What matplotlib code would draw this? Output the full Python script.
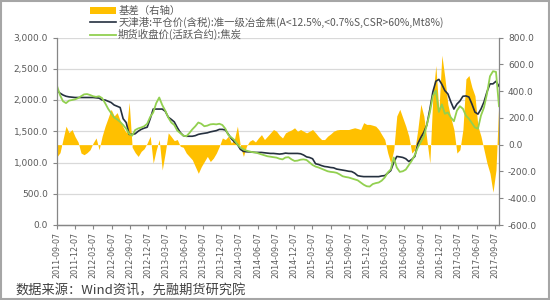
import matplotlib
matplotlib.use("Agg")
import matplotlib.pyplot as plt
import matplotlib.dates as mdates
from matplotlib.ticker import FuncFormatter
from matplotlib.patches import Rectangle
import pandas as pd

plt.rcParams['font.family'] = ['Noto Sans CJK SC', 'DejaVu Sans']

# 日期轴 (约每10天一个点)
dates = pd.date_range('2011-09-07', '2017-09-27', periods=148)

# 期货收盘价(活跃合约):焦炭  (左轴)
futures = [2226, 2080, 1980, 1950, 1990, 2000, 2010, 2030, 2060, 2090,
           2095, 2080, 2060, 2050, 2060, 2030, 1950, 1860, 1790, 1720,
           1690, 1650, 1600, 1540, 1460, 1430, 1520, 1545, 1560, 1580,
           1620, 1730, 1800, 1950, 2040, 1920, 1830, 1720, 1640, 1600,
           1510, 1470, 1430, 1420, 1470, 1530, 1580, 1640, 1620, 1580,
           1590, 1610, 1615, 1610, 1620, 1600, 1540, 1440, 1400, 1360,
           1290, 1240, 1210, 1190, 1178, 1165, 1161, 1145, 1130, 1115,
           1100, 1092, 1085, 1078, 1060, 1050, 1080, 1085, 1050, 1025,
           1030, 1045, 1050, 1040, 1000, 960, 935, 920, 900, 880,
           860, 850, 845, 835, 810, 780, 768, 760, 745, 730,
           715, 680, 645, 620, 615, 655, 670, 680, 710, 760,
           840, 890, 1080, 920, 850, 860, 887, 960, 1030, 1120,
           1240, 1330, 1420, 1600, 1800, 2065, 2150, 1810, 1930, 1780,
           1800, 1720, 1660, 1830, 1900, 1860, 1750, 1700, 1630, 1560,
           1540, 1750, 1880, 2100, 2380, 2460, 2450, 1900]

# 天津港:平仓价(含税):准一级冶金焦  (左轴)
spot = [2150, 2110, 2080, 2060, 2050, 2045, 2040, 2040, 2040, 2040,
        2040, 2040, 2040, 2035, 2030, 2000, 2000, 1980, 1960, 1920,
        1900, 1880, 1700, 1640, 1450, 1450, 1460, 1500, 1530, 1550,
        1565, 1700, 1855, 1855, 1855, 1855, 1820, 1726, 1690, 1650,
        1560, 1480, 1430, 1420, 1420, 1420, 1430, 1450, 1460, 1468,
        1475, 1490, 1500, 1510, 1530, 1530, 1520, 1452, 1380, 1330,
        1290, 1210, 1178, 1172, 1170, 1165, 1161, 1161, 1161, 1155,
        1150, 1145, 1145, 1140, 1135, 1140, 1150, 1145, 1145, 1145,
        1145, 1140, 1120, 1090, 1080, 1060, 980, 968, 950, 936,
        930, 920, 915, 895, 887, 880, 870, 860, 855, 830,
        790, 780, 774, 774, 774, 774, 774, 774, 785, 790,
        830, 870, 1000, 1097, 1090, 1081, 1060, 1016, 1050, 1097,
        1300, 1400, 1484, 1600, 1850, 2130, 2300, 2330, 2250, 2150,
        2097, 1968, 1855, 1935, 1984, 2060, 2065, 2048, 1935, 1806,
        1774, 1855, 1968, 2129, 2258, 2258, 2300, 2220]

# 基差 (右轴)
basis = [-90, -60, 40, 138, 90, 113, 60, 20, -63, -75,
         -60, -38, 12, 50, -38, 63, 138, 200, 264, 214,
         239, 180, 130, 90, 317, -20, -60, -88, -50, -30,
         12, 63, -138, -40, 38, -189, -60, 88, 60, 30,
         38, -12, -20, -63, -88, -113, -164, -214, -164, -126,
         -88, -126, -101, -63, -12, 50, 38, 63, 12, 40,
         138, -12, -88, -12, 25, 38, 20, 50, 75, 38,
         63, 88, 113, 100, 70, 50, 88, 100, 110, 126,
         100, 113, 100, 88, 100, 113, 88, 60, 38, 38,
         63, 80, 100, 110, 113, 113, 113, 113, 120, 126,
         120, 113, 164, 151, 151, 145, 138, 113, 75, 38,
         -63, -138, -38, 214, 264, 201, 138, 63, -63, -38,
         113, 302, 214, 38, -138, 365, 591, 250, 668, 500,
         300, 200, 113, -63, -38, 113, 491, 516, 428, 365,
         138, 63, -38, -138, -214, -355, -189, 350]

tick_dates = [pd.Timestamp('2011-09-07') + pd.DateOffset(months=3 * i) for i in range(25)]
left_ticks = [0, 500, 1000, 1500, 2000, 2500, 3000]
right_ticks = [-600, -400, -200, 0, 200, 400, 600, 800]

labels = ['基差（右轴）',
          '天津港:平仓价(含税):准一级冶金焦(A<12.5%,<0.7%S,CSR>60%,Mt8%)',
          '期货收盘价(活跃合约):焦炭']

GRAY = '#595959'
AXC = '#868686'

fig = plt.figure(figsize=(5.5, 3), dpi=100)
ax = fig.add_axes([57 / 550, 0.25, 442 / 550, 0.625])
ax2 = ax.twinx()
ax.set_zorder(2)
ax2.set_zorder(1)
ax.patch.set_visible(False)

# gridlines follow left axis, drawn under the basis fill
for t in left_ticks[1:]:
    ax2.axhline(-600 + t * 1400 / 3000, color='#d9d9d9', lw=0.9, zorder=0)

fb = ax2.fill_between(dates, 0, basis, color='#FFC000', lw=0, zorder=2)
l1, = ax.plot(dates, spot, color='#25303f', lw=1.2)
l2, = ax.plot(dates, futures, color='#92D050', lw=1.3)

ax.set_xlim(dates[0], dates[-1])
ax.set_ylim(0, 3000)
ax2.set_ylim(-600, 800)
ax.set_yticks(left_ticks)
ax2.set_yticks(right_ticks)
ax.yaxis.set_major_formatter(FuncFormatter(lambda v, p: f'{v:,.1f}'))
ax2.yaxis.set_major_formatter(FuncFormatter(lambda v, p: f'{v:,.1f}'))
ax.set_xticks(tick_dates)
ax.xaxis.set_major_formatter(mdates.DateFormatter('%Y-%m-%d'))

for a in (ax, ax2):
    for s in a.spines.values():
        s.set_color(AXC)
        s.set_linewidth(0.9)
    a.spines['top'].set_visible(False)
    a.tick_params(colors=AXC, labelcolor=GRAY, length=3, width=0.8,
                  labelsize=6.5)
ax2.spines['left'].set_visible(False)
ax.spines['right'].set_visible(False)
ax.tick_params(axis='x', labelrotation=90, labelsize=5.8, pad=2)
for lab in ax.get_yticklabels() + ax2.get_yticklabels() + ax.get_xticklabels():
    lab.set_family('DejaVu Sans')

fig.legend([fb, l1, l2], labels, loc='upper left',
           bbox_to_anchor=(90 / 550, 1 - 6 / 300), frameon=False,
           fontsize=7.5, handlelength=2.5, handletextpad=0.2,
           labelspacing=0.1, borderpad=0, borderaxespad=0,
           labelcolor=GRAY)

fig.text(15 / 550, 1 - 291 / 300, '数据来源：Wind资讯，先融期货研究院',
         fontsize=9.5, color='#404040', va='center')

fig.patches.append(Rectangle((0.002, 0.003), 0.996, 0.994, transform=fig.transFigure,
                             fill=False, edgecolor='#a6a6a6', lw=1.5))

fig.savefig('out.png', dpi=100)
